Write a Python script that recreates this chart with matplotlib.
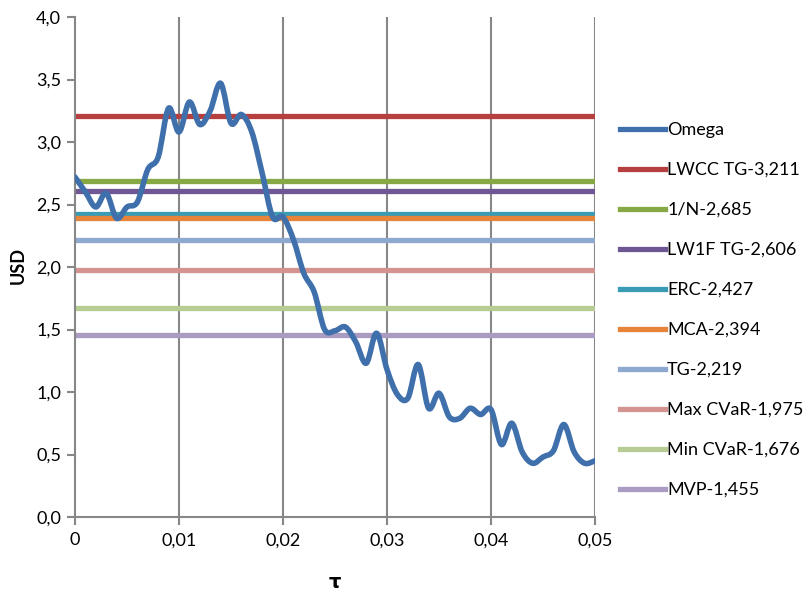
import numpy as np
import matplotlib
matplotlib.use("Agg")
import matplotlib.pyplot as plt
from matplotlib.path import Path
from matplotlib.patches import PathPatch
from matplotlib.lines import Line2D
from matplotlib.ticker import FuncFormatter

plt.rcParams['font.family'] = ['Lato', 'DejaVu Sans']

# Omega strategy value as a function of tau
tau = [0.000, 0.001, 0.002, 0.003, 0.004, 0.005, 0.006, 0.007, 0.008, 0.009,
       0.010, 0.011, 0.012, 0.013, 0.014, 0.015, 0.016, 0.017, 0.018, 0.019,
       0.020, 0.021, 0.022, 0.023, 0.024, 0.025, 0.026, 0.027, 0.028, 0.029,
       0.030, 0.031, 0.032, 0.033, 0.034, 0.035, 0.036, 0.037, 0.038, 0.039,
       0.040, 0.041, 0.042, 0.043, 0.044, 0.045, 0.046, 0.047, 0.048, 0.049,
       0.050]
omega = [2.72, 2.60, 2.48, 2.59, 2.39, 2.48, 2.52, 2.78, 2.88, 3.27,
         3.08, 3.32, 3.14, 3.25, 3.47, 3.15, 3.22, 3.08, 2.75, 2.40,
         2.40, 2.22, 1.95, 1.80, 1.50, 1.49, 1.52, 1.40, 1.23, 1.47,
         1.18, 0.98, 0.95, 1.22, 0.87, 0.99, 0.80, 0.79, 0.87, 0.82,
         0.86, 0.58, 0.75, 0.52, 0.43, 0.48, 0.53, 0.74, 0.52, 0.43,
         0.45]

# Benchmark strategies (constant levels)
bench_names = ['LWCC TG', '1/N', 'LW1F TG', 'ERC', 'MCA', 'TG',
               'Max CVaR', 'Min CVaR', 'MVP']
bench_values = [3.211, 2.685, 2.606, 2.427, 2.394, 2.219, 1.975, 1.676, 1.455]
bench_colors = ['#B5403F', '#86A845', '#6E5794', '#3A9BB5', '#E8833A',
                '#8DA9CF', '#D39391', '#B7CC93', '#A99BC2']
omega_color = '#3F70AB'

x_ticks = [0, 0.01, 0.02, 0.03, 0.04, 0.05]
y_ticks = [0.0, 0.5, 1.0, 1.5, 2.0, 2.5, 3.0, 3.5, 4.0]

fig = plt.figure(figsize=(8.09, 5.96), dpi=100)
ax = fig.add_axes([75 / 809, 1 - 517 / 596, 520 / 809, 500 / 596])
ax.set_xlim(0, 0.05)
ax.set_ylim(0, 4.0)

grid_c = '#878787'
for xv in x_ticks[1:]:
    ax.axvline(xv, color=grid_c, lw=1.5, zorder=1)

handles = []
for name, val, col in zip(bench_names, bench_values, bench_colors):
    ax.plot([0, 0.05], [val, val], color=col, lw=3.8, solid_capstyle='butt', zorder=2)
    lbl = f"{name}-{val:.3f}".replace('.', ',')
    handles.append(Line2D([], [], color=col, lw=3.8, label=lbl))

# Smooth Omega curve: cubic Bezier segments (Catmull-Rom style control points)
x = np.asarray(tau)
y = np.asarray(omega)
n = len(x)
verts = [(x[0], y[0])]
codes = [Path.MOVETO]
for i in range(n - 1):
    p0 = np.array([x[max(i - 1, 0)], y[max(i - 1, 0)]])
    p1 = np.array([x[i], y[i]])
    p2 = np.array([x[i + 1], y[i + 1]])
    p3 = np.array([x[min(i + 2, n - 1)], y[min(i + 2, n - 1)]])
    c1 = p1 + (p2 - p0) / 6.0
    c2 = p2 - (p3 - p1) / 6.0
    verts += [tuple(c1), tuple(c2), tuple(p2)]
    codes += [Path.CURVE4, Path.CURVE4, Path.CURVE4]
patch = PathPatch(Path(verts, codes), facecolor='none', edgecolor=omega_color,
                  lw=4.0, capstyle='round', joinstyle='round', zorder=3)
ax.add_patch(patch)
handles.insert(0, Line2D([], [], color=omega_color, lw=3.8, label='Omega'))

for side in ['top', 'right']:
    ax.spines[side].set_visible(False)
for side in ['left', 'bottom']:
    ax.spines[side].set_color(grid_c)
    ax.spines[side].set_linewidth(1.5)

ax.set_xticks(x_ticks)
ax.set_yticks(y_ticks)
ax.xaxis.set_major_formatter(FuncFormatter(
    lambda v, p: '0' if abs(v) < 1e-12 else f"{v:.2f}".replace('.', ',')))
ax.yaxis.set_major_formatter(FuncFormatter(lambda v, p: f"{v:.1f}".replace('.', ',')))
ax.tick_params(axis='both', direction='out', length=6, width=1.5, color=grid_c,
               labelsize=13, labelcolor='#000000')
ax.tick_params(axis='x', pad=5)
ax.tick_params(axis='y', pad=4)

fig.text(335 / 809, 1 - 582 / 596, 'τ', ha='center', va='center',
         fontsize=14, fontweight='bold', family=['DejaVu Sans'])
fig.text(18 / 809, 1 - 265 / 596, 'USD', ha='center', va='center',
         rotation=90, fontsize=13, fontweight='bold')

fig.legend(handles=handles, loc='center left', bbox_to_anchor=(604 / 809, 1 - 310 / 596),
           frameon=False, fontsize=13, handlelength=2.5, handletextpad=0.1,
           labelspacing=1.33)

fig.savefig('out.png', dpi=100, facecolor='white')
